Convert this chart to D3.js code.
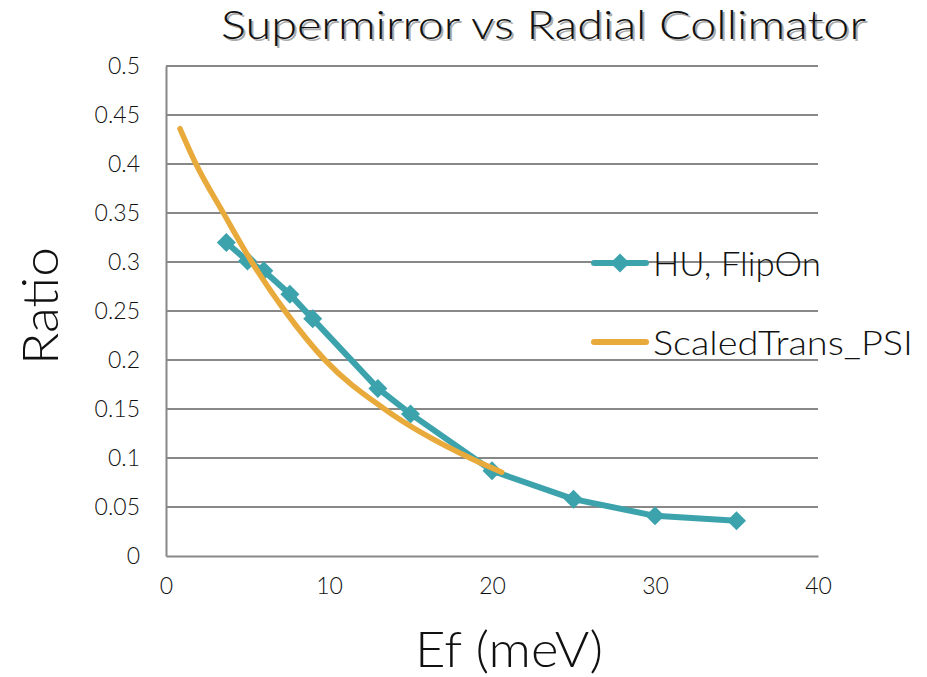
<!DOCTYPE html>
<html>
<head>
<meta charset="utf-8">
<script src="https://cdn.jsdelivr.net/npm/d3@7"></script>
<style>
  body { margin: 0; background: #fff; }
  text { font-family: "Lato", "DejaVu Sans", sans-serif; font-weight: 300; fill: #111; }
</style>
</head>
<body>
<svg id="chart" width="927" height="677"></svg>
<script>
// HU, FlipOn measured points
var huEf = [3.7, 5, 6, 7.6, 9, 13, 15, 20, 25, 30, 35];
var huRatio = [0.320, 0.301, 0.291, 0.267, 0.242, 0.171, 0.145, 0.087, 0.058, 0.041, 0.036];

// ScaledTrans_PSI curve
var psiEf = [0.86, 1.84, 3.52, 5.26, 7.3, 9.75, 13.4, 18.65, 20.6];
var psiRatio = [0.436, 0.40, 0.35, 0.30, 0.25, 0.20, 0.15, 0.10, 0.0855];

var xTicks = [0, 10, 20, 30, 40];
var yTicks = [0, 0.05, 0.1, 0.15, 0.2, 0.25, 0.3, 0.35, 0.4, 0.45, 0.5];

var teal = "#3ca3ad", orange = "#e9aa3c", grid = "#888";

var svg = d3.select("#chart");
var plotL = 166, plotR = 818, plotT = 66, plotB = 556;

var x = d3.scaleLinear().domain([0, 40]).range([plotL, plotR]);
var y = d3.scaleLinear().domain([0, 0.5]).range([plotB, plotT]);

var g = svg.append("g");

// gridlines
g.append("g").selectAll("line")
  .data(yTicks.slice(1))
  .enter().append("line")
    .attr("x1", plotL).attr("x2", plotR)
    .attr("y1", function(d) { return y(d); })
    .attr("y2", function(d) { return y(d); })
    .attr("stroke", grid).attr("stroke-width", 2);

// axes
var yAxis = g.append("g")
  .attr("transform", "translate(" + plotL + ",0)")
  .call(d3.axisLeft(y).tickValues(yTicks).tickSize(0).tickPadding(26)
    .tickFormat(function(d) { return String(+d.toFixed(2)); }));
var xAxis = g.append("g")
  .attr("transform", "translate(0," + plotB + ")")
  .call(d3.axisBottom(x).tickValues(xTicks).tickSize(0).tickPadding(22));

[yAxis, xAxis].forEach(function(a) {
  a.attr("font-size", null).attr("font-family", null);
  a.select(".domain").attr("stroke", grid).attr("stroke-width", 2);
  a.selectAll("text").style("font-size", "23px").attr("fill", "#111");
});

var line = d3.line()
  .x(function(d) { return x(d[0]); })
  .y(function(d) { return y(d[1]); });

// HU, FlipOn
var hu = huEf.map(function(d, i) { return [d, huRatio[i]]; });
g.append("path")
  .attr("fill", "none")
  .attr("stroke", teal)
  .attr("stroke-width", 6)
  .attr("stroke-linejoin", "round")
  .attr("d", line.curve(d3.curveLinear)(hu));

var diamond = d3.symbol().type(d3.symbolDiamond2).size(230);
g.append("g").selectAll("path")
  .data(hu)
  .enter().append("path")
    .attr("d", diamond)
    .attr("transform", function(d) { return "translate(" + x(d[0]) + "," + y(d[1]) + ")"; })
    .attr("fill", teal);

// ScaledTrans_PSI drawn above series 1
var psi = psiEf.map(function(d, i) { return [d, psiRatio[i]]; });
g.append("path")
  .attr("fill", "none")
  .attr("stroke", orange)
  .attr("stroke-width", 5.5)
  .attr("stroke-linecap", "round")
  .attr("d", line.curve(d3.curveMonotoneX)(psi));

// legend
var legend = svg.append("g");
legend.append("line").attr("x1", 594).attr("x2", 646).attr("y1", 263).attr("y2", 263)
  .attr("stroke", teal).attr("stroke-width", 6).attr("stroke-linecap", "round");
legend.append("path").attr("d", diamond).attr("transform", "translate(620,263)").attr("fill", teal);
legend.append("text").attr("x", 653).attr("y", 276).text("HU, FlipOn")
  .style("font-size", "34px").attr("textLength", 168).attr("lengthAdjust", "spacingAndGlyphs");

legend.append("line").attr("x1", 594).attr("x2", 646).attr("y1", 342).attr("y2", 342)
  .attr("stroke", orange).attr("stroke-width", 6).attr("stroke-linecap", "round");
legend.append("text").attr("x", 653).attr("y", 355).text("ScaledTrans_PSI")
  .style("font-size", "34px").attr("textLength", 260).attr("lengthAdjust", "spacingAndGlyphs");

// title with shadow
var title = "Supermirror vs Radial Collimator";
svg.append("text").attr("x", 223).attr("y", 41).text(title)
  .style("font-size", "40px").style("fill", "#aaa")
  .attr("textLength", 645).attr("lengthAdjust", "spacingAndGlyphs");
svg.append("text").attr("x", 221).attr("y", 39).text(title)
  .style("font-size", "40px")
  .attr("textLength", 645).attr("lengthAdjust", "spacingAndGlyphs");

// axis titles
svg.append("text")
  .attr("transform", "translate(58,306) rotate(-90)")
  .attr("text-anchor", "middle")
  .text("Ratio").style("font-size", "50px")
  .attr("textLength", 118).attr("lengthAdjust", "spacingAndGlyphs");
svg.append("text")
  .attr("x", 509).attr("y", 667)
  .attr("text-anchor", "middle")
  .text("Ef (meV)").style("font-size", "50px")
  .attr("textLength", 188).attr("lengthAdjust", "spacingAndGlyphs");
</script>
</body>
</html>
